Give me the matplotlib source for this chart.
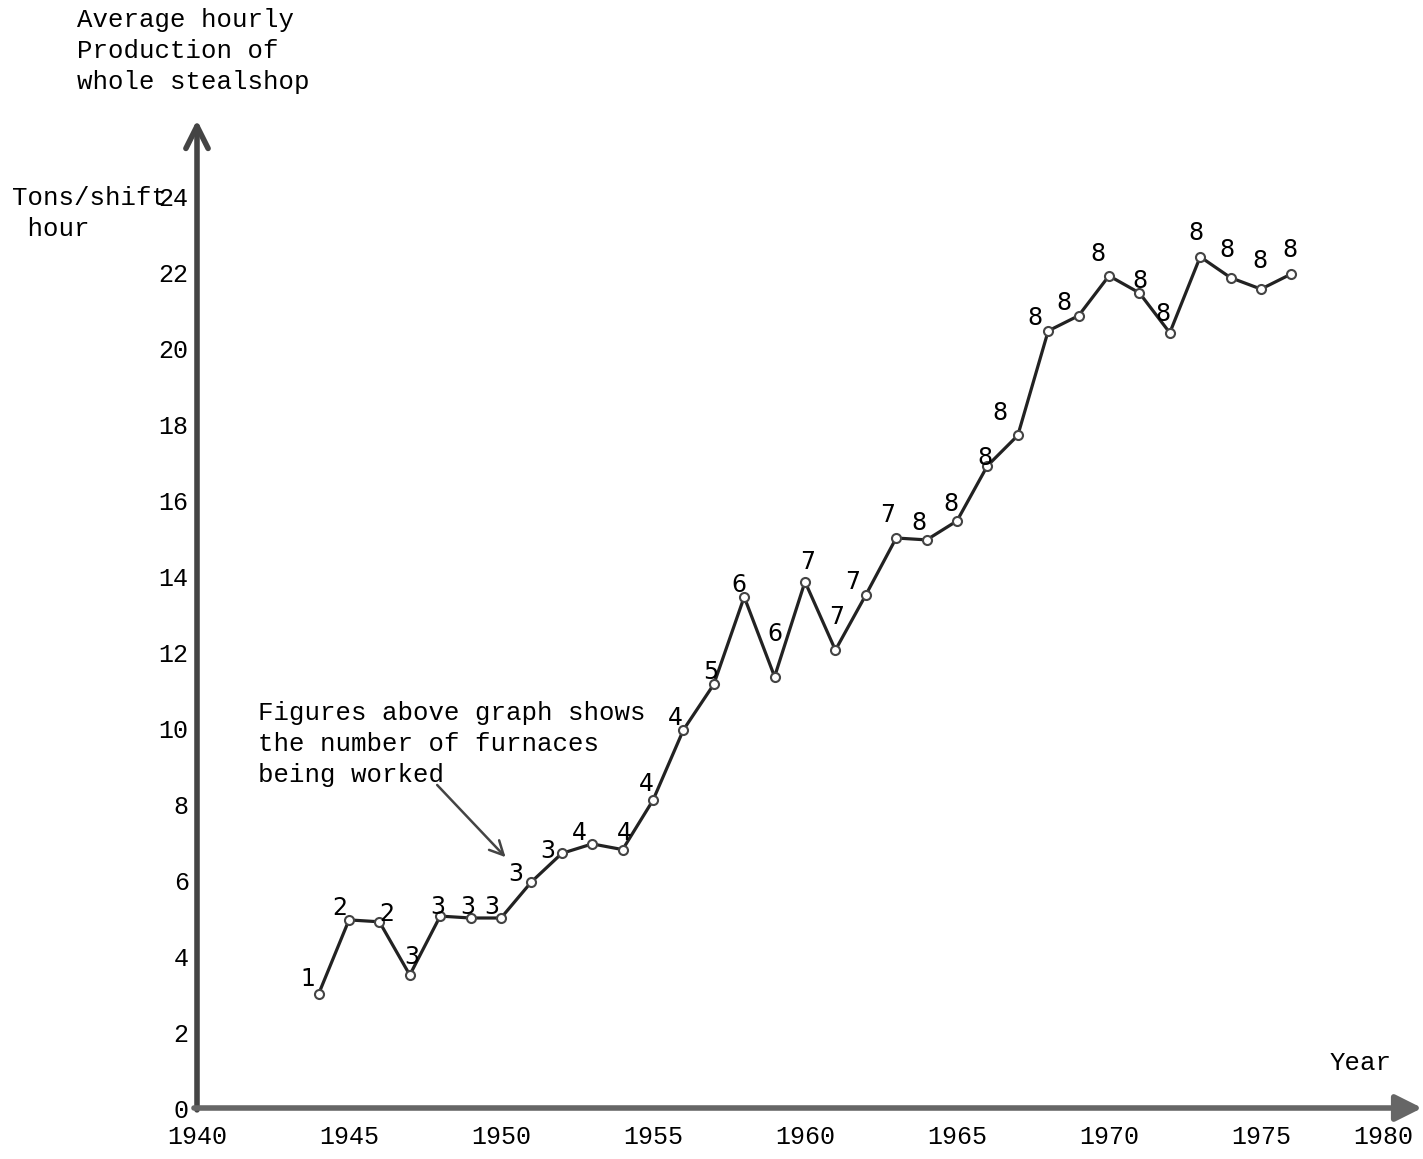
import matplotlib
matplotlib.use("Agg")
import matplotlib.pyplot as plt

# ---------- dados ----------
years = [1944, 1945, 1946, 1947, 1948, 1949, 1950, 1951, 1952, 1953, 1954,
         1955, 1956, 1957, 1958, 1959, 1960, 1961, 1962, 1963, 1964, 1965,
         1966, 1967, 1968, 1969, 1970, 1971, 1972, 1973, 1974, 1975, 1976]
tons = [3.0, 4.95, 4.9, 3.5, 5.05, 5.0, 5.0, 5.95, 6.7, 6.95, 6.8,
        8.1, 9.95, 11.15, 13.45, 11.35, 13.85, 12.05, 13.5, 15.0, 14.95, 15.45,
        16.9, 17.7, 20.45, 20.85, 21.9, 21.45, 20.4, 22.4, 21.85, 21.55, 21.95]
furnaces = [1, 2, 2, 3, 3, 3, 3, 3, 3, 4, 4,
            4, 4, 5, 6, 6, 7, 7, 7, 7, 8, 8,
            8, 8, 8, 8, 8, 8, 8, 8, 8, 8, 8]
xticks = [1940, 1945, 1950, 1955, 1960, 1965, 1970, 1975, 1980]
yticks = [0, 2, 4, 6, 8, 10, 12, 14, 16, 18, 20, 22, 24]

# deslocamento (pixels) de cada número em relação ao ponto
label_offsets = [(-11, 15), (-9, 12), (7, 8), (2, 18), (-2, 9), (-3, 11), (-9, 11),
                 (-16, 8), (-14, 2), (-13, 11), (2, 17), (-7, 16), (-8, 12),
                 (-3, 12), (-5, 12), (0, 43), (3, 20), (1, 33), (-13, 13),
                 (-9, 23), (-8, 17), (-6, 17), (-2, 8), (-18, 22), (-13, 13),
                 (-15, 13), (-11, 22), (1, 12), (-7, 19), (-4, 24), (-4, 28),
                 (-1, 28), (-1, 24)]

W, H = 1423, 1159
fig = plt.figure(figsize=(W / 100, H / 100), dpi=100)

# eixo: 1940 em x=197px, 30.4 px/ano ; y=0 em 1108px, 38 px/unidade
x0, y0 = 197, 1108
px_year, px_unit = 30.4, 38.0
ax = fig.add_axes([x0 / W, (H - y0) / H, (W - x0) / W, 1008 / H])
ax.set_xlim(1940, 1940 + (W - x0) / px_year)
ax.set_ylim(0, 1008 / px_unit)

for s in ax.spines.values():
    s.set_visible(False)

mono = "Liberation Mono"

ax.set_xticks(xticks)
ax.set_xticklabels([str(t) for t in xticks], fontsize=18, family=mono)
ax.set_yticks(yticks)
ax.set_yticklabels([str(t) for t in yticks], fontsize=18, family=mono)
ax.tick_params(length=0, pad=6)
ax.tick_params(axis="x", pad=12)
ax.get_xticklabels()[-1].set_horizontalalignment("right")

# eixos com setas
ax.annotate("", xy=(1940, 26.0), xytext=(1940, -0.05),
            arrowprops=dict(arrowstyle="->", lw=4, color="#444444",
                            mutation_scale=40, shrinkA=0, shrinkB=0),
            annotation_clip=False)
ax.annotate("", xy=(1980.3, 0), xytext=(1939.9, 0),
            arrowprops=dict(arrowstyle="-|>", lw=4, color="#666666",
                            mutation_scale=40, shrinkA=0, shrinkB=0),
            annotation_clip=False)

# linha de produção
ax.plot(years, tons, color="#222222", lw=2.3, marker="o", markersize=6.5,
        markerfacecolor="white", markeredgecolor="#444444", markeredgewidth=1.5,
        zorder=3)

for x, y, n, off in zip(years, tons, furnaces, label_offsets):
    ax.annotate(str(n), (x, y), xytext=off, textcoords="offset pixels",
                ha="center", va="center", fontsize=17, family="DejaVu Sans",
                zorder=4)

# nota explicativa
ax.text(1942.0, 10.7, "Figures above graph shows\nthe number of furnaces\nbeing worked",
        fontsize=18.5, family=mono, va="top", ha="left", linespacing=1.36)
ax.annotate("", xy=(1950.15, 6.6), xytext=(1947.9, 8.5),
            arrowprops=dict(arrowstyle="->", lw=1.8, color="#444444",
                            mutation_scale=25, shrinkA=0, shrinkB=0))

# textos dos eixos
fig.text(77 / W, 1 - 8 / H, "Average hourly\nProduction of\nwhole stealshop",
         fontsize=18.5, family=mono, va="top", ha="left", linespacing=1.36)
fig.text(12 / W, 1 - 186 / H, "Tons/shift\n hour",
         fontsize=18.5, family=mono, va="top", ha="left", linespacing=1.36)
fig.text(1330 / W, 1 - 1063 / H, "Year", fontsize=18.5, family=mono,
         va="center", ha="left")

fig.savefig("out.png", dpi=100)
